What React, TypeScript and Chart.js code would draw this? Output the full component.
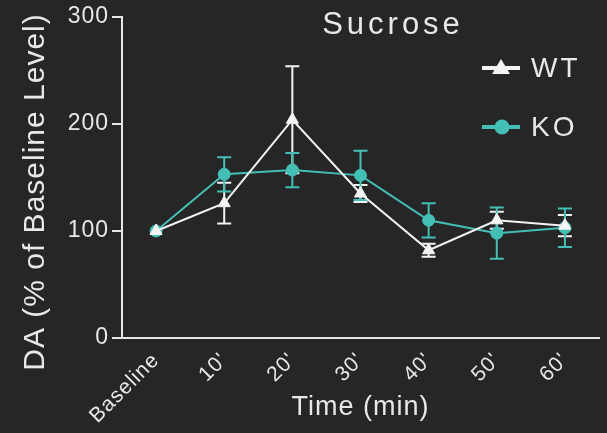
import { useEffect, useRef } from "react";
import { Chart, registerables } from "chart.js";

Chart.register(...registerables);

const categories = ["Baseline", "10'", "20'", "30'", "40'", "50'", "60'"];
const wtValues = [100, 126, 204, 135, 82, 110, 105];
const wtErrors = [0, 19, 50, 8, 6, 8, 10];
const koValues = [100, 153, 157, 152, 110, 98, 103];
const koErrors = [0, 16, 16, 23, 16, 24, 18];
const yTicks = [0, 100, 200, 300];
const seriesNames = ["WT", "KO"];
const chartTitle = "Sucrose";
const xTitle = "Time (min)";
const yTitle = "DA (% of Baseline Level)";

const BG = "#262626";
const FG = "#e8e8e8";
const TEAL = "#44bfb6";
const FONT = "'Liberation Sans', Arial, Helvetica, sans-serif";

const spacingPlugin = {
  id: "spacing",
  beforeLayout(chart: any) {
    chart.ctx.letterSpacing = "1px";
  },
  beforeDraw(chart: any) {
    chart.ctx.letterSpacing = "1px";
  },
};

const errorBarsPlugin = {
  id: "errorBars",
  beforeDatasetsDraw(chart: any) {
    const { ctx } = chart;
    const y = chart.scales.y;
    chart.data.datasets.forEach((ds: any, i: number) => {
      const meta = chart.getDatasetMeta(i);
      const errs: number[] = ds.errors || [];
      ctx.save();
      ctx.strokeStyle = ds.borderColor;
      ctx.lineWidth = 2;
      meta.data.forEach((pt: any, j: number) => {
        const e = errs[j];
        if (!e) return;
        const v = ds.data[j];
        const yTop = y.getPixelForValue(v + e);
        const yBot = y.getPixelForValue(v - e);
        const x = pt.x;
        ctx.beginPath();
        ctx.moveTo(x, yTop);
        ctx.lineTo(x, yBot);
        ctx.moveTo(x - 7, yTop);
        ctx.lineTo(x + 7, yTop);
        ctx.moveTo(x - 7, yBot);
        ctx.lineTo(x + 7, yBot);
        ctx.stroke();
      });
      ctx.restore();
    });
  },
};

const decorPlugin = {
  id: "decor",
  afterDraw(chart: any) {
    const { ctx } = chart;
    ctx.save();
    ctx.fillStyle = FG;
    ctx.textBaseline = "middle";
    // title
    ctx.font = `31px ${FONT}`;
    ctx.letterSpacing = "4px";
    ctx.textAlign = "center";
    ctx.fillText(chartTitle, 393, 25);
    // y title
    ctx.save();
    ctx.font = `30px ${FONT}`;
    ctx.letterSpacing = "1px";
    ctx.translate(36, 192);
    ctx.rotate(-Math.PI / 2);
    ctx.fillText(yTitle, 0, 0);
    ctx.restore();
    // legend
    const rows = [68, 127];
    chart.data.datasets.forEach((ds: any, i: number) => {
      const cy = rows[i];
      ctx.strokeStyle = ds.borderColor;
      ctx.fillStyle = ds.borderColor;
      ctx.lineWidth = 4;
      ctx.beginPath();
      ctx.moveTo(482, cy);
      ctx.lineTo(520, cy);
      ctx.stroke();
      if (ds.pointStyle === "triangle") {
        ctx.beginPath();
        ctx.moveTo(501, cy - 9);
        ctx.lineTo(510, cy + 6);
        ctx.lineTo(492, cy + 6);
        ctx.closePath();
        ctx.fill();
      } else {
        ctx.beginPath();
        ctx.arc(502, cy, 7.5, 0, Math.PI * 2);
        ctx.fill();
      }
      ctx.fillStyle = FG;
      ctx.font = `28px ${FONT}`;
      ctx.letterSpacing = "3px";
      ctx.textAlign = "left";
      ctx.fillText(ds.label, 531, cy + 1);
    });
    ctx.restore();
  },
};

export default function App() {
  const ref = useRef<HTMLCanvasElement | null>(null);

  useEffect(() => {
    if (!ref.current) return;
    const chart = new Chart(ref.current, {
      type: "line",
      data: {
        labels: categories,
        datasets: [
          {
            label: seriesNames[0],
            data: wtValues,
            errors: wtErrors,
            borderColor: "#f4f4f4",
            backgroundColor: "#f4f4f4",
            borderWidth: 2,
            pointStyle: "triangle",
            pointRadius: 7,
            pointBorderWidth: 1,
            tension: 0,
          } as any,
          {
            label: seriesNames[1],
            data: koValues,
            errors: koErrors,
            borderColor: TEAL,
            backgroundColor: TEAL,
            borderWidth: 2,
            pointStyle: "circle",
            pointRadius: 6,
            pointBorderWidth: 1,
            tension: 0,
          } as any,
        ],
      },
      options: {
        animation: false,
        responsive: true,
        maintainAspectRatio: false,
        layout: { padding: { top: 17, right: 5, left: 0, bottom: 0 } },
        plugins: {
          legend: { display: false },
          title: { display: false },
          tooltip: { enabled: false },
        },
        scales: {
          x: {
            type: "category",
            offset: true,
            grid: { display: false },
            border: { display: true, color: FG, width: 2 },
            ticks: {
              color: FG,
              font: { family: FONT, size: 21 },
              minRotation: 45,
              maxRotation: 45,
              padding: 2,
            },
            title: {
              display: true,
              text: xTitle,
              color: FG,
              font: { family: FONT, size: 27 },
              padding: { top: 0, bottom: 9 },
            },
            afterFit(scale: any) {
              scale.height = 95;
            },
          },
          y: {
            min: 0,
            max: 300,
            afterBuildTicks(scale: any) {
              scale.ticks = yTicks.map((v) => ({ value: v }));
            },
            grid: {
              display: true,
              drawOnChartArea: false,
              drawTicks: true,
              tickLength: 10,
              color: FG,
              lineWidth: 2,
            },
            border: { display: true, color: FG, width: 2 },
            ticks: {
              color: FG,
              font: { family: FONT, size: 23 },
              padding: 3,
            },
            afterFit(scale: any) {
              scale.width = 122;
            },
          },
        },
      } as any,
      plugins: [spacingPlugin, errorBarsPlugin, decorPlugin],
    });
    return () => chart.destroy();
  }, []);

  return (
    <div
      style={{
        position: "fixed",
        left: 0,
        top: 0,
        width: 607,
        height: 433,
        background: BG,
      }}
    >
      <canvas ref={ref} />
    </div>
  );
}
